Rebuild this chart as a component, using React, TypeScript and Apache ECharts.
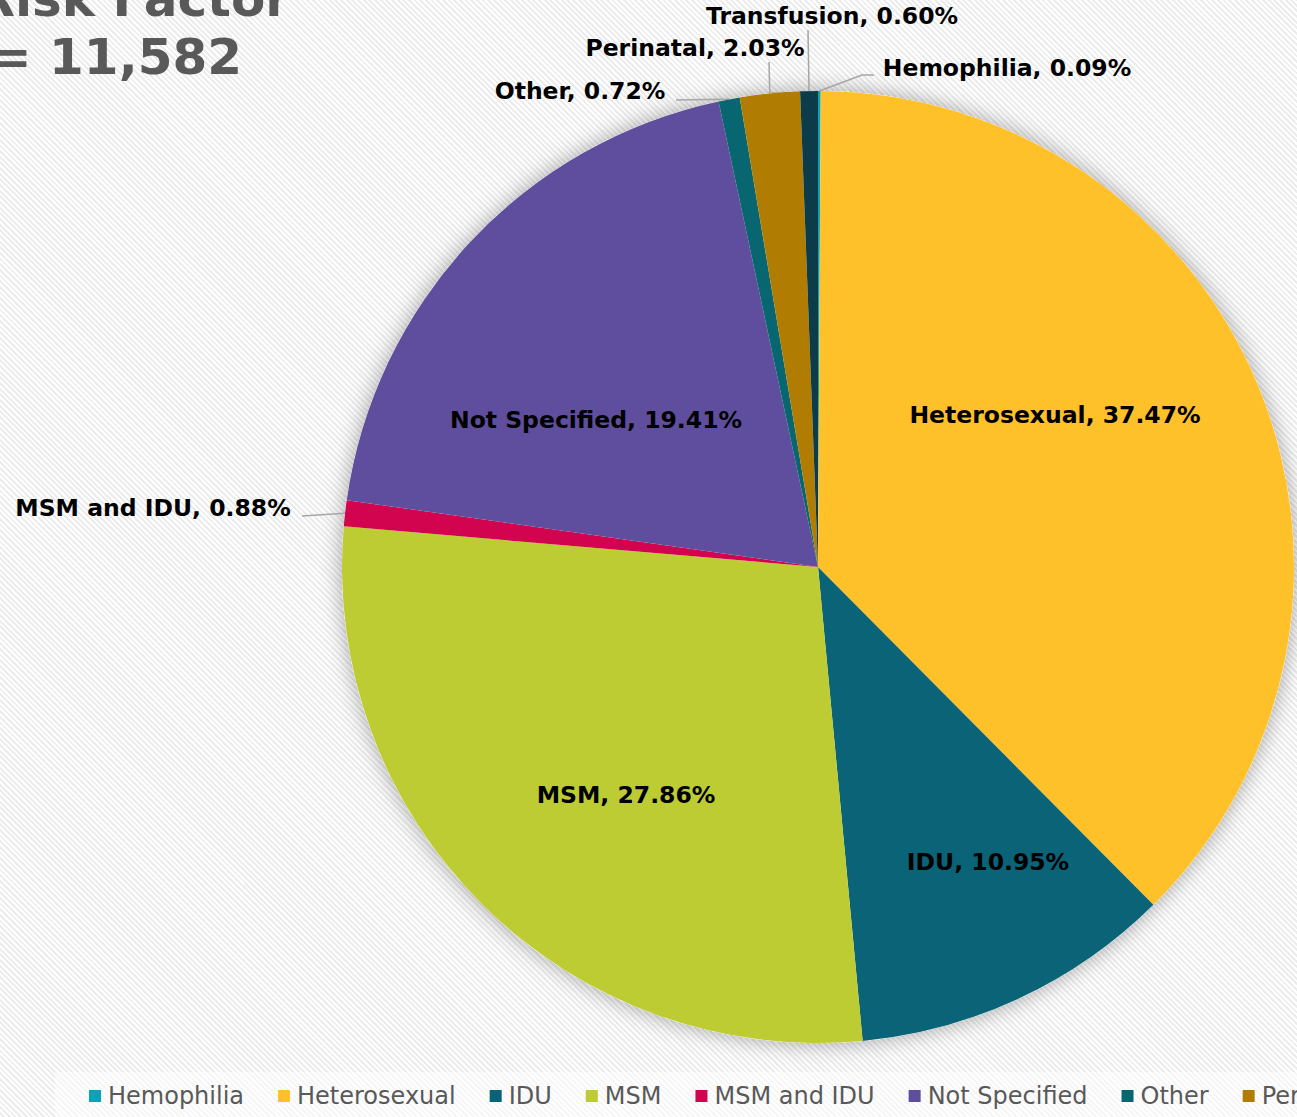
import React, { useEffect, useRef } from "react";
import * as echarts from "echarts";

const categories = [
  "Hemophilia",
  "Heterosexual",
  "IDU",
  "MSM",
  "MSM and IDU",
  "Not Specified",
  "Other",
  "Perinatal",
  "Transfusion",
];
const percents = [0.09, 37.47, 10.95, 27.86, 0.88, 19.41, 0.72, 2.03, 0.6];
const colors = [
  "#0aa2b9",
  "#fec12a",
  "#0b6378",
  "#bdcc33",
  "#d2034f",
  "#5f4e9d",
  "#07666f",
  "#b07d02",
  "#0c3c4a",
];
const insideLabels = ["Heterosexual", "IDU", "MSM", "Not Specified"];
const titleLines = ["Risk Factor", "= 11,582"];

// label anchor positions (layout only)
const labelPos: Record<string, { x: number; y: number; line?: number[][] }> = {
  Heterosexual: { x: 1055, y: 415 },
  IDU: { x: 988, y: 862 },
  MSM: { x: 626, y: 795 },
  "Not Specified": { x: 596, y: 420 },
  Transfusion: { x: 832, y: 16, line: [[808, 30]] },
  Perinatal: { x: 695, y: 48, line: [[769, 62]] },
  Hemophilia: { x: 1007, y: 68, line: [[862, 75], [874, 75]] },
  Other: { x: 580, y: 91, line: [[676, 100]] },
  "MSM and IDU": { x: 153, y: 508, line: [[302, 516]] },
};

export default function App() {
  const ref = useRef<HTMLDivElement>(null);
  useEffect(() => {
    if (!ref.current) return;
    const chart = echarts.init(ref.current, null, { renderer: "svg" });
    const data = categories.map((name, i) => {
      const inside = insideLabels.includes(name);
      return {
        name,
        value: percents[i],
        itemStyle: { color: colors[i] },
        label: { position: inside ? "inside" : "outside" },
        labelLine: { show: !inside },
      };
    });
    chart.setOption({
      animation: false,
      backgroundColor: "transparent",
      legend: {
        data: categories,
        orient: "horizontal",
        left: 55,
        top: 1072,
        width: 3000,
        padding: [12, 10, 12, 34],
        backgroundColor: "rgba(255,255,255,0.55)",
        itemWidth: 12,
        itemHeight: 12,
        itemGap: 34,
        icon: "rect",
        textStyle: {
          fontFamily: "DejaVu Sans",
          fontSize: 24,
          color: "#595959",
          padding: [0, 0, 0, 2],
        },
      },
      graphic: [
        {
          type: "text",
          style: {
            text: titleLines[0],
            x: 290,
            y: -1,
            align: "right",
            verticalAlign: "middle",
            font: "bold 50px 'DejaVu Sans'",
            fill: "#595959",
          },
        },
        {
          type: "text",
          style: {
            text: titleLines[1],
            x: 242,
            y: 57,
            align: "right",
            verticalAlign: "middle",
            font: "bold 50px 'DejaVu Sans'",
            fill: "#595959",
          },
        },
      ],
      series: [
        {
          type: "pie",
          silent: true,
          center: [818, 567],
          radius: 476,
          z: 1,
          data: [{ value: 1, name: "" }],
          itemStyle: {
            color: "#ffffff",
            shadowBlur: 22,
            shadowColor: "rgba(0,0,0,0.35)",
          },
          label: { show: false },
          labelLine: { show: false },
        },
        {
          type: "pie",
          center: [818, 567],
          radius: 476,
          startAngle: 90,
          clockwise: true,
          z: 2,
          data,
          itemStyle: { borderWidth: 0 },
          label: {
            show: true,
            formatter: (p: any) => `${p.name}, ${p.value.toFixed(2)}%`,
            fontFamily: "DejaVu Sans",
            fontWeight: "bold",
            fontSize: 23.5,
            color: "#000000",
          },
          labelLine: {
            show: true,
            lineStyle: { color: "#a6a6a6", width: 1.5 },
          },
          labelLayout: (params: any) => {
            const name = categories[params.dataIndex];
            const pos = labelPos[name];
            if (!pos) return {};
            const res: any = {
              x: pos.x,
              y: pos.y,
              align: "center",
              verticalAlign: "middle",
            };
            if (pos.line && params.labelLinePoints) {
              res.labelLinePoints = [params.labelLinePoints[0], ...pos.line];
            }
            return res;
          },
        },
      ],
    });
    return () => chart.dispose();
  }, []);
  return (
    <div
      ref={ref}
      style={{
        position: "fixed",
        left: 0,
        top: 0,
        width: 1297,
        height: 1117,
        overflow: "hidden",
        background:
          "repeating-linear-gradient(45deg, #ffffff 0px, #ffffff 2px, #ececec 2px, #ececec 4px)",
      }}
    />
  );
}
